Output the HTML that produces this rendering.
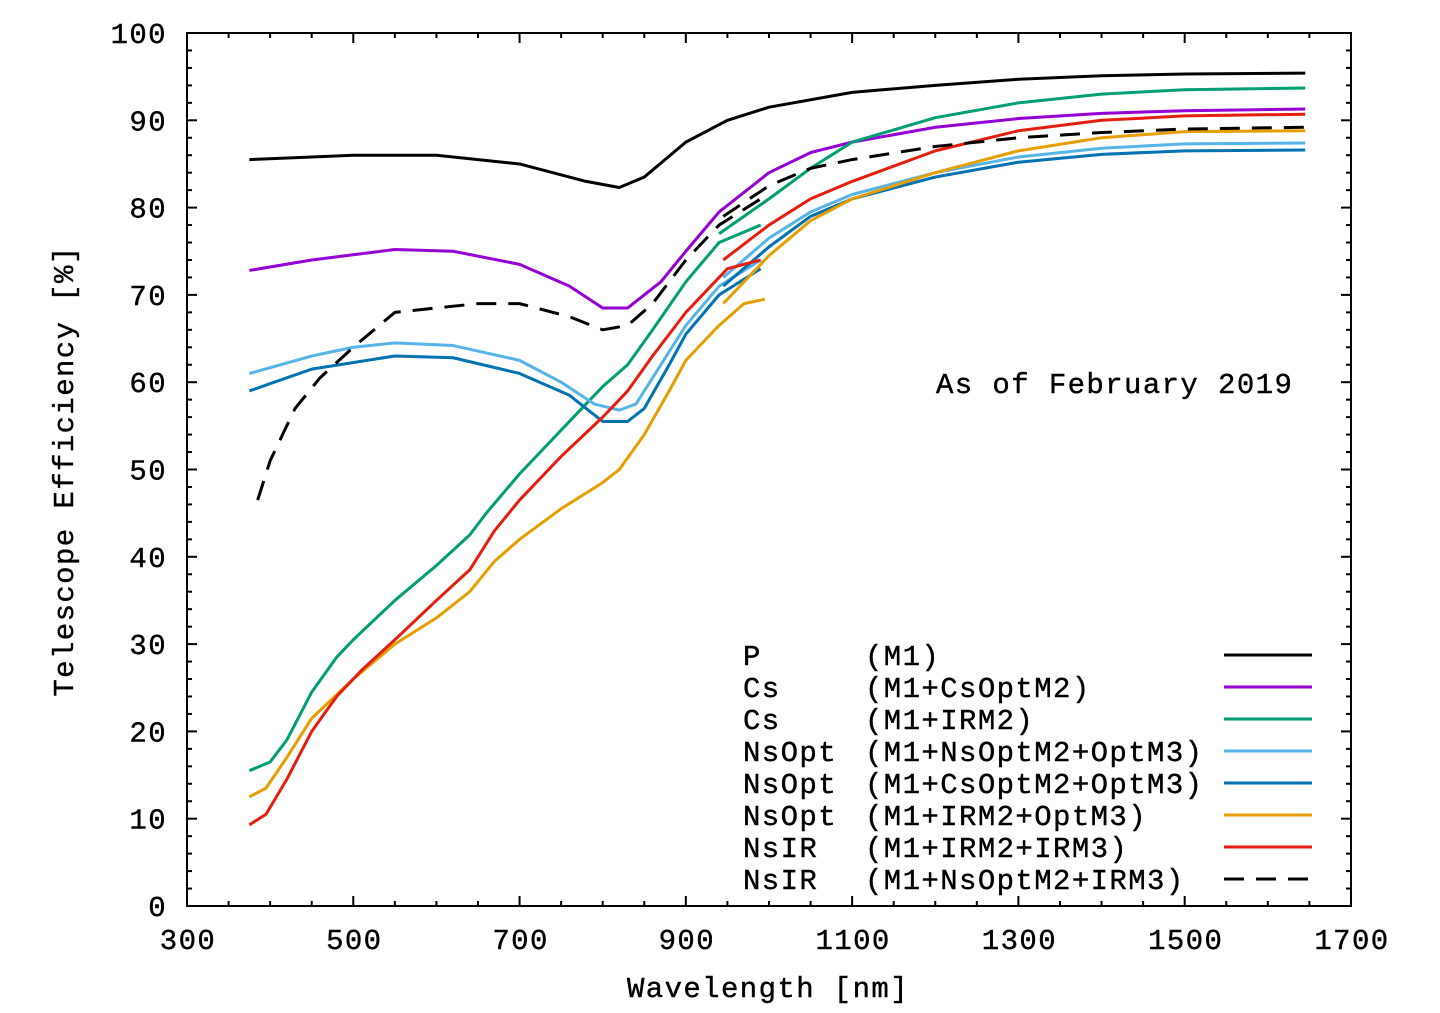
<!DOCTYPE html>
<html><head><meta charset="utf-8"><style>
body{margin:0;background:#fff}
svg text{font-family:"Liberation Mono",monospace;font-size:29px;fill:#000;letter-spacing:1.4px;stroke:#000;stroke-width:0.4px}
</style></head><body>
<svg width="1440" height="1008" viewBox="0 0 1440 1008" xmlns="http://www.w3.org/2000/svg">
<g stroke="#000" stroke-width="2" fill="none">
<rect x="187" y="33" width="1164" height="873"/>
</g>
<g id="tk" stroke="#000" stroke-width="2"></g>
<g id="lbl"></g>
<g transform="translate(187,906) scale(0.8314,-8.73) translate(-300,0)" fill="none" stroke-width="3" stroke-linejoin="round">
<polyline vector-effect="non-scaling-stroke" stroke="#000" points="375,85.5 450,85.8 500,86 600,86 700,85 780,83 820,82.3 850,83.5 900,87.5 950,90 1000,91.5 1100,93.2 1200,94 1300,94.7 1400,95.1 1500,95.3 1645,95.4"/>
<polyline vector-effect="non-scaling-stroke" stroke="#9400d3" points="375,72.8 450,74 550,75.2 620,75 700,73.5 760,71 800,68.5 830,68.5 870,71.5 900,75 940,79.5 980,82.5 1000,84 1050,86.3 1100,87.5 1200,89.2 1300,90.2 1400,90.8 1500,91.1 1645,91.3"/>
<polyline vector-effect="non-scaling-stroke" stroke="#009e73" points="375,15.5 400,16.5 420,19 450,24.5 480,28.5 500,30.5 550,35 600,39 640,42.5 660,45 700,49.5 750,54.5 800,59.5 830,62 860,66 900,71.5 940,76 990,78"/>
<polyline vector-effect="non-scaling-stroke" stroke="#009e73" points="940,77 1000,81 1050,84.5 1100,87.5 1200,90.3 1300,92 1400,93 1500,93.5 1645,93.7"/>
<polyline vector-effect="non-scaling-stroke" stroke="#56b4e9" points="375,61 450,63 500,64 550,64.5 620,64.2 700,62.5 750,60 790,57.5 820,56.8 840,57.5 870,62 900,66.5 940,71 990,74"/>
<polyline vector-effect="non-scaling-stroke" stroke="#56b4e9" points="945,72 1000,76.5 1050,79.5 1100,81.5 1200,84 1300,85.8 1400,86.8 1500,87.3 1645,87.4"/>
<polyline vector-effect="non-scaling-stroke" stroke="#0072b2" points="375,59 450,61.5 550,63 620,62.8 700,61 760,58.5 800,55.5 830,55.5 850,57 880,62 900,65.5 940,70 990,73"/>
<polyline vector-effect="non-scaling-stroke" stroke="#0072b2" points="945,71 1000,75.5 1050,79 1100,81 1200,83.5 1300,85.2 1400,86.1 1500,86.5 1645,86.6"/>
<polyline vector-effect="non-scaling-stroke" stroke="#e69f00" points="375,12.5 395,13.5 420,17 450,21.5 500,26 550,30 600,33 640,36 670,39.5 700,42 750,45.5 800,48.5 820,50 850,54 880,59 900,62.5 940,66.5 970,69 995,69.5"/>
<polyline vector-effect="non-scaling-stroke" stroke="#e69f00" points="945,69 1000,74.5 1050,78.5 1100,81 1200,84 1300,86.5 1400,88 1500,88.7 1645,88.8"/>
<polyline vector-effect="non-scaling-stroke" stroke="#e51e10" points="375,9.3 395,10.5 420,14.5 450,20 480,24 510,27 550,30.5 600,35 640,38.5 670,43 700,46.5 750,51.5 800,56 830,59 860,63 900,68 930,71 950,73 990,74"/>
<polyline vector-effect="non-scaling-stroke" stroke="#e51e10" points="945,74 1000,78 1050,81 1100,83 1200,86.5 1300,88.8 1400,90 1500,90.5 1645,90.7"/>
<polyline vector-effect="non-scaling-stroke" stroke="#000" stroke-dasharray="20 12" points="385,46.5 400,51 430,57 460,60.5 500,64 550,68 600,68.5 650,69 700,69 760,67.5 800,66 830,66.5 860,69 900,74 940,78 990,81"/>
<polyline vector-effect="non-scaling-stroke" stroke="#000" stroke-dasharray="20 12" points="945,79 1000,82.5 1050,84.5 1100,85.5 1200,87 1300,88 1400,88.6 1500,89 1645,89.2"/>
</g>
<text x="936" y="393">As of February 2019</text>
<g id="leg"></g>
<text x="768" y="997" text-anchor="middle">Wavelength [nm]</text>
<text transform="translate(73,471) rotate(-90)" text-anchor="middle">Telescope Efficiency [%]</text>
<script>
var ns="http://www.w3.org/2000/svg",tk=document.getElementById("tk"),lb=document.getElementById("lbl"),lg=document.getElementById("leg");
function L(g,x1,y1,x2,y2,c,w,d){var l=document.createElementNS(ns,"line");l.setAttribute("x1",x1);l.setAttribute("y1",y1);l.setAttribute("x2",x2);l.setAttribute("y2",y2);if(c)l.setAttribute("stroke",c);if(w)l.setAttribute("stroke-width",w);if(d)l.setAttribute("stroke-dasharray",d);g.appendChild(l);}
function T(g,x,y,s,a){var t=document.createElementNS(ns,"text");t.setAttribute("x",x);t.setAttribute("y",y);if(a)t.setAttribute("text-anchor",a);t.setAttribute("xml:space","preserve");t.textContent=s;g.appendChild(t);}
for(var v=0;v<=100;v+=2){var y=906-v*8.73,len=v%10==0?10:5;L(tk,187,y,187+len,y);L(tk,1351,y,1351-len,y);if(v%10==0)T(lb,167,y+10,v,"end");}
for(var n=300;n<=1700;n+=50){var x=187+(n-300)*0.8314,len=(n-300)%200==0?10:5;L(tk,x,906,x,906-len);L(tk,x,33,x,33+len);if((n-300)%200==0)T(lb,x+1,949,n,"middle");}
var items=[["P","(M1)","#000"],["Cs","(M1+CsOptM2)","#9400d3"],["Cs","(M1+IRM2)","#009e73"],["NsOpt","(M1+NsOptM2+OptM3)","#56b4e9"],["NsOpt","(M1+CsOptM2+OptM3)","#0072b2"],["NsOpt","(M1+IRM2+OptM3)","#e69f00"],["NsIR","(M1+IRM2+IRM3)","#e51e10"],["NsIR","(M1+NsOptM2+IRM3)","#000"]];
items.forEach(function(it,i){var y=655+i*32;T(lg,743,y+10,it[0]);T(lg,865,y+10,it[1]);L(lg,1224,y,1312,y,it[2],3,i==7?"20 12":null);});
</script>
</svg>
</body></html>
